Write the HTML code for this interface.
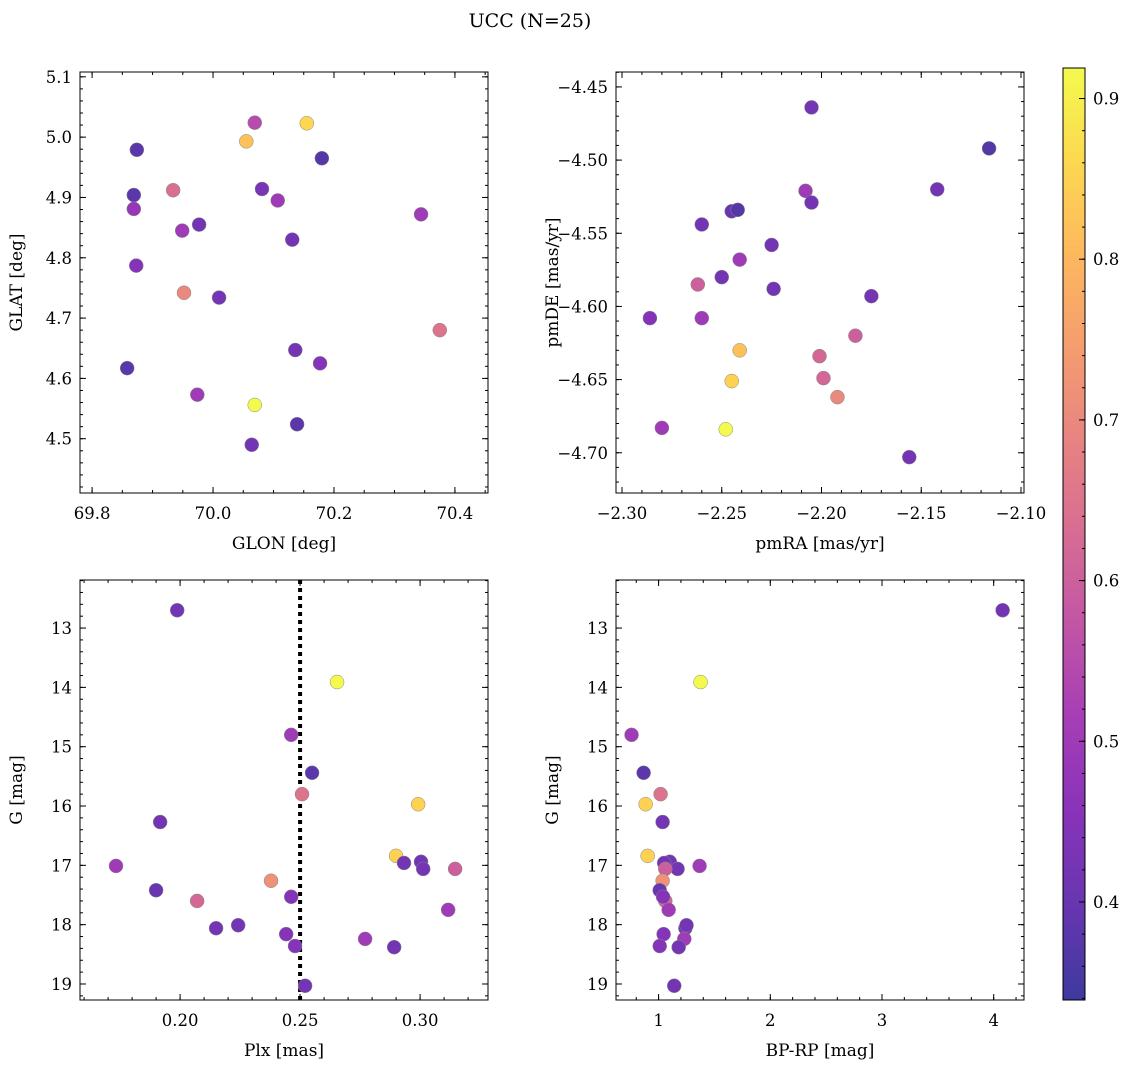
<!DOCTYPE html>
<html><head><meta charset="utf-8"><style>
body{margin:0;background:#fff;}
svg{font-family:"DejaVu Serif","Liberation Serif",serif;}
</style></head><body>
<svg id="c" width="1136" height="1068" xmlns="http://www.w3.org/2000/svg">
<text x="530" y="27" font-size="19" text-anchor="middle">UCC (N=25)</text>
</svg>
<script>
// Panel 1: GLON / GLAT / color
const p1x=[69.874,69.869,69.869,69.873,69.858,69.934,69.949,69.977,69.952,70.010,69.974,70.055,70.069,70.155,70.081,70.107,70.069,70.064,70.180,70.131,70.136,70.139,70.177,70.344,70.375];
const p1y=[4.979,4.904,4.881,4.787,4.617,4.912,4.845,4.855,4.742,4.734,4.573,4.993,5.024,5.023,4.914,4.895,4.556,4.490,4.965,4.830,4.647,4.524,4.625,4.872,4.680];
const p1c=[0.38,0.38,0.48,0.45,0.38,0.64,0.5,0.42,0.70,0.42,0.5,0.82,0.55,0.86,0.43,0.5,0.92,0.42,0.37,0.42,0.42,0.38,0.45,0.5,0.65];
// Panel 2: pmRA / pmDE / color
const p2x=[-2.205,-2.116,-2.142,-2.208,-2.205,-2.245,-2.242,-2.260,-2.225,-2.241,-2.250,-2.262,-2.224,-2.175,-2.286,-2.260,-2.183,-2.241,-2.201,-2.199,-2.245,-2.192,-2.280,-2.248,-2.156];
const p2y=[-4.464,-4.492,-4.520,-4.521,-4.529,-4.535,-4.534,-4.544,-4.558,-4.568,-4.580,-4.585,-4.588,-4.593,-4.608,-4.608,-4.620,-4.630,-4.634,-4.649,-4.651,-4.662,-4.683,-4.684,-4.703];
const p2c=[0.42,0.37,0.42,0.5,0.42,0.4,0.37,0.42,0.42,0.5,0.42,0.6,0.42,0.42,0.45,0.5,0.6,0.82,0.62,0.62,0.85,0.7,0.5,0.92,0.42];
// Panels 3/4: Plx, BP-RP, G, color
const plx=[0.1988,0.2654,0.2463,0.2550,0.2508,0.2992,0.1917,0.1733,0.2900,0.3004,0.2933,0.3013,0.3146,0.2379,0.1900,0.2071,0.2463,0.3117,0.2150,0.2242,0.2442,0.2771,0.2479,0.2892,0.2521];
const bprp=[4.08,1.376,0.758,0.866,1.018,0.884,1.036,1.367,0.902,1.10,1.05,1.17,1.06,1.036,1.01,1.06,1.04,1.09,1.24,1.25,1.045,1.23,1.01,1.18,1.14];
const gmag=[12.70,13.91,14.80,15.44,15.80,15.97,16.27,17.01,16.84,16.94,16.96,17.06,17.06,17.26,17.42,17.60,17.53,17.75,18.06,18.01,18.16,18.24,18.36,18.38,19.03];
const gcol=[0.42,0.92,0.5,0.38,0.65,0.85,0.42,0.5,0.85,0.42,0.42,0.42,0.6,0.72,0.4,0.62,0.45,0.5,0.42,0.42,0.45,0.5,0.45,0.42,0.42];
const cbTicks=[0.4,0.5,0.6,0.7,0.8,0.9];

const NS='http://www.w3.org/2000/svg';
const svg=document.getElementById('c');
function mk(t,a,p){const e=document.createElementNS(NS,t);for(const k in a)e.setAttribute(k,a[k]);(p||svg).appendChild(e);return e;}
const stops=['#0d0887','#41049d','#6a00a8','#8f0da4','#b12a90','#cc4778','#e16462','#f2844b','#fca636','#fcce25','#f0f921'];
function hx(h){return [1,3,5].map(i=>parseInt(h.substr(i,2),16));}
const CMIN=0.339,CMAX=0.919;
function plasma(v){let t=(v-CMIN)/(CMAX-CMIN);t=Math.max(0,Math.min(1,t))*10;const i=Math.min(9,Math.floor(t)),f=t-i;const a=hx(stops[i]),b=hx(stops[i+1]);const c=a.map((x,k)=>Math.round((x+(b[k]-x)*f)*0.8+255*0.2));return `rgb(${c[0]},${c[1]},${c[2]})`;}
function fmt(v,d){const s=Math.abs(v).toFixed(d);return (v<0?'\u2212':'')+s;}
const TF=16.5;

function panel(o){
  const g=mk('g',{});
  const X=v=>o.x0+(v-o.xa)/(o.xb-o.xa)*(o.x1-o.x0);
  const Y=o.yinv?(v=>o.y0+(v-o.ya)/(o.yb-o.ya)*(o.y1-o.y0)):(v=>o.y1-(v-o.ya)/(o.yb-o.ya)*(o.y1-o.y0));
  const tk=(a,b,step,fn)=>{const n0=Math.ceil(a/step-1e-6),n1=Math.floor(b/step+1e-6);for(let n=n0;n<=n1;n++)fn(n*step);};
  tk(o.xa,o.xb,o.xminor,v=>{const x=X(v);mk('line',{x1:x,x2:x,y1:o.y1,y2:o.y1-3,stroke:'#000'},g);mk('line',{x1:x,x2:x,y1:o.y0,y2:o.y0+3,stroke:'#000'},g);});
  tk(o.ya,o.yb,o.yminor,v=>{const y=Y(v);mk('line',{x1:o.x0,x2:o.x0+3,y1:y,y2:y,stroke:'#000'},g);mk('line',{x1:o.x1,x2:o.x1-3,y1:y,y2:y,stroke:'#000'},g);});
  tk(o.xa,o.xb,o.xmajor,v=>{const x=X(v);mk('line',{x1:x,x2:x,y1:o.y1,y2:o.y1-6,stroke:'#000'},g);mk('line',{x1:x,x2:x,y1:o.y0,y2:o.y0+6,stroke:'#000'},g);
    const t=mk('text',{x:x,y:o.y1+26,'font-size':TF,'text-anchor':'middle'},g);t.textContent=fmt(v,o.xd);});
  tk(o.ya,o.yb,o.ymajor,v=>{const y=Y(v);mk('line',{x1:o.x0,x2:o.x0+6,y1:y,y2:y,stroke:'#000'},g);mk('line',{x1:o.x1,x2:o.x1-6,y1:y,y2:y,stroke:'#000'},g);
    const t=mk('text',{x:o.x0-8,y:y+6,'font-size':TF,'text-anchor':'end'},g);t.textContent=fmt(v,o.yd);});
  if(o.vline!==undefined){const l=mk('line',{x1:X(o.vline),x2:X(o.vline),y1:o.y0,y2:o.y1,stroke:'#000','stroke-width':4,'stroke-dasharray':'4,4'},g);}
  for(let i=0;i<o.xs.length;i++){const c=mk('circle',{cx:X(o.xs[i]),cy:Y(o.ys[i]),r:7,fill:plasma(o.cs[i]),stroke:'#888','stroke-width':0.5},g);
    
    }
  const r=mk('rect',{x:o.x0,y:o.y0,width:o.x1-o.x0,height:o.y1-o.y0,fill:'none',stroke:'#000','stroke-width':1},g);
  
  const xl=mk('text',{x:(o.x0+o.x1)/2,y:o.y1+56,'font-size':17,'text-anchor':'middle'},g);xl.textContent=o.xlab;
  
  const cy=(o.y0+o.y1)/2,cx=o.x0-58;
  const yl=mk('text',{x:cx,y:cy,'font-size':17,'text-anchor':'middle',transform:`rotate(-90 ${cx} ${cy})`},g);yl.textContent=o.ylab;
  
}
panel({name:'glon-glat-panel',x0:80,x1:488,y0:72,y1:493,xa:69.78,xb:70.4547,ya:4.41,yb:5.108,xmajor:0.2,xminor:0.05,ymajor:0.1,yminor:0.02,xd:1,yd:1,xs:p1x,ys:p1y,cs:p1c,xlab:'GLON [deg]',ylab:'GLAT [deg]'});
panel({name:'pm-panel',x0:616,x1:1024,y0:72,y1:493,xa:-2.3030,xb:-2.0985,ya:-4.7275,yb:-4.4398,xmajor:0.05,xminor:0.01,ymajor:0.05,yminor:0.01,xd:2,yd:2,xs:p2x,ys:p2y,cs:p2c,xlab:'pmRA [mas/yr]',ylab:'pmDE [mas/yr]'});
panel({name:'plx-g-panel',x0:80,x1:488,y0:580,y1:1000,xa:0.1583,xb:0.3283,ya:12.19,yb:19.27,yinv:true,xmajor:0.05,xminor:0.01,ymajor:1,yminor:0.2,xd:2,yd:0,xs:plx,ys:gmag,cs:gcol,vline:0.25,xlab:'Plx [mas]',ylab:'G [mag]'});
panel({name:'cmd-panel',x0:616,x1:1024,y0:580,y1:1000,xa:0.6187,xb:4.2713,ya:12.19,yb:19.27,yinv:true,xmajor:1,xminor:0.2,ymajor:1,yminor:0.2,xd:0,yd:0,xs:bprp,ys:gmag,cs:gcol,xlab:'BP-RP [mag]',ylab:'G [mag]'});

const cb=mk('g',{});
const CX0=1063,CX1=1085,CY0=68,CY1=1000;
const CY=v=>CY1-(v-CMIN)/(CMAX-CMIN)*(CY1-CY0);
for(let y=CY0;y<CY1;y+=2){mk('rect',{x:CX0,y:y,width:CX1-CX0,height:2.5,fill:plasma(CMIN+(CY1-y-1)/(CY1-CY0)*(CMAX-CMIN))},cb);}
for(let v=0.34;v<=0.92;v+=0.02){const y=CY(v);mk('line',{x1:CX1,x2:CX1-3,y1:y,y2:y,stroke:'#000'},cb);}
cbTicks.forEach(v=>{const y=CY(v);mk('line',{x1:CX1,x2:CX1-6,y1:y,y2:y,stroke:'#000'},cb);
  const t=mk('text',{x:CX1+8,y:y+6,'font-size':TF},cb);t.textContent=v.toFixed(1);});
mk('rect',{x:CX0,y:CY0,width:CX1-CX0,height:CY1-CY0,fill:'none',stroke:'#000'},cb);
</script>
</body></html>
